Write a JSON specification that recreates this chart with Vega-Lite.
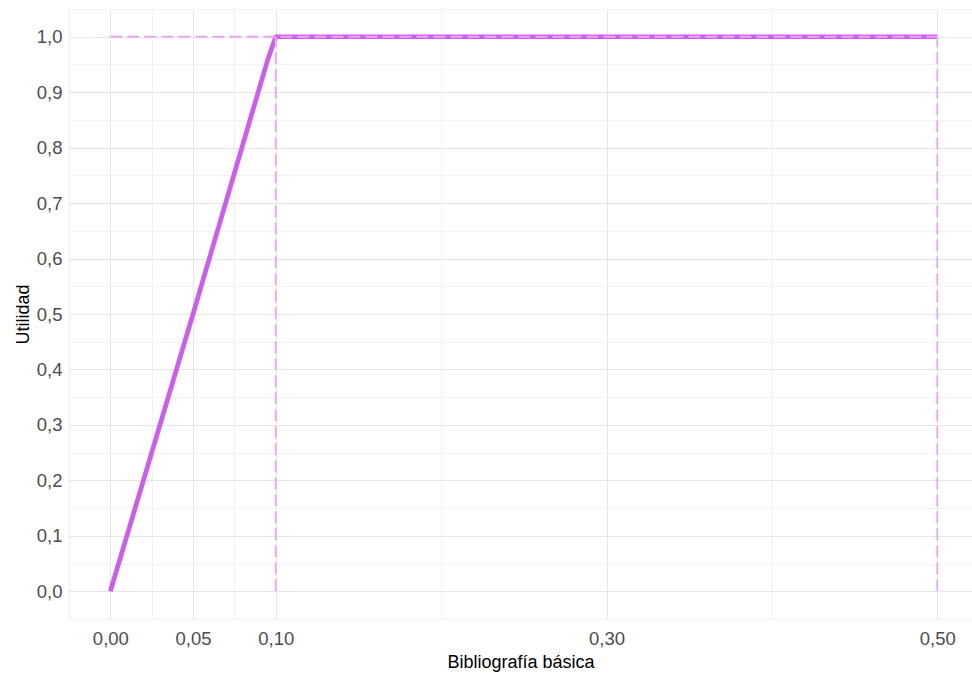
{
  "$schema": "https://vega.github.io/schema/vega-lite/v6.json",
  "autosize": "none",
  "width": 903,
  "height": 610,
  "padding": {"left": 69, "top": 9, "right": 0, "bottom": 60},
  "background": "white",
  "config": {
    "view": {"stroke": null},
    "font": "Liberation Sans",
    "axis": {"domain": false, "ticks": false, "labelFont": "Liberation Sans", "titleFont": "Liberation Sans", "labelColor": "#4D4D4D", "titleColor": "#000000", "labelFontSize": 18.5, "titleFontSize": 18, "titleFontWeight": "normal", "labelOverlap": false, "labelFlush": false, "gridWidth": 1, "tickCount": 100}
  },
  "datasets": {
    "curve": [
      {"x": 0, "u": 0},
      {"x": 0.05, "u": 0.5},
      {"x": 0.095, "u": 0.957},
      {"x": 0.1, "u": 1},
      {"x": 0.5, "u": 1}
    ],
    "guides": [
      {"x": 0, "y": 1, "x2": 0.5, "y2": 1},
      {"x": 0.1, "y": 0, "x2": 0.1, "y2": 1},
      {"x": 0.5, "y": 0, "x2": 0.5, "y2": 1}
    ]
  },
  "layer": [
    {
      "data": {"name": "curve"},
      "mark": {"type": "line", "color": "#CE5CF0", "strokeWidth": 4.7, "strokeCap": "butt", "strokeJoin": "round"},
      "encoding": {
        "x": {
          "field": "x", "type": "quantitative",
          "scale": {"domain": [-0.025, 0.521], "nice": false, "zero": false},
          "axis": {
            "title": "Bibliografía básica",
            "values": [-0.025, 0, 0.025, 0.05, 0.075, 0.1, 0.2, 0.3, 0.4, 0.5],
            "tickCount": 100,
            "labelExpr": "indexof([0, 0.05, 0.1, 0.3, 0.5], datum.value) >= 0 ? replace(format(datum.value, '.2f'), '.', ',') : ''",
            "labelPadding": 10,
            "titlePadding": 6,
            "gridColor": {"condition": {"test": "indexof([0, 0.05, 0.1, 0.3, 0.5], datum.value) >= 0", "value": "#E6E6E6"}, "value": "#F2F2F2"}
          }
        },
        "y": {
          "field": "u", "type": "quantitative",
          "scale": {"domain": [-0.05, 1.05], "nice": false, "zero": false},
          "axis": {
            "title": "Utilidad",
            "values": [-0.05, 0, 0.05, 0.1, 0.15, 0.2, 0.25, 0.3, 0.35, 0.4, 0.45, 0.5, 0.55, 0.6, 0.65, 0.7, 0.75, 0.8, 0.85, 0.9, 0.95, 1, 1.05],
            "tickCount": 100,
            "labelExpr": "indexof([0, 0.1, 0.2, 0.3, 0.4, 0.5, 0.6, 0.7, 0.8, 0.9, 1], datum.value) >= 0 ? replace(format(datum.value, '.1f'), '.', ',') : ''",
            "labelPadding": 7,
            "titlePadding": 4,
            "gridColor": {"condition": {"test": "indexof([0, 0.1, 0.2, 0.3, 0.4, 0.5, 0.6, 0.7, 0.8, 0.9, 1], datum.value) >= 0", "value": "#E6E6E6"}, "value": "#F2F2F2"}
          }
        }
      }
    },
    {
      "data": {"name": "guides"},
      "mark": {"type": "rule", "color": "#EDA6EE", "strokeWidth": 1.8, "strokeDash": [12, 5]},
      "encoding": {
        "x": {"field": "x", "type": "quantitative"},
        "y": {"field": "y", "type": "quantitative"},
        "x2": {"field": "x2"},
        "y2": {"field": "y2"}
      }
    }
  ]
}
